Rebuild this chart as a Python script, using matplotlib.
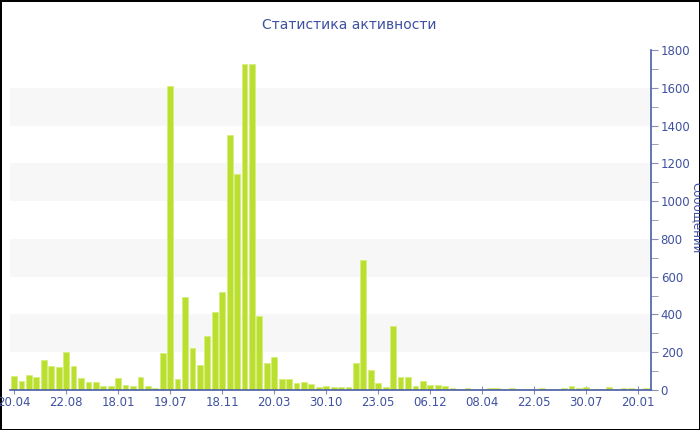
import matplotlib
matplotlib.use("Agg")
import matplotlib.pyplot as plt
from matplotlib.ticker import MultipleLocator
import numpy as np

title = "Статистика активности"
ylabel = "Сообщений"
tick_labels = ["20.04", "22.08", "18.01", "19.07", "18.11", "20.03", "30.10",
               "23.05", "06.12", "08.04", "22.05", "30.07", "20.01"]
tick_step = 7
values = [72, 48, 78, 71, 157, 125, 120, 201, 127, 65,
          41, 42, 23, 23, 62, 28, 21, 70, 23, 11,
          194, 1612, 56, 494, 222, 132, 288, 411, 521, 1352,
          1144, 1726, 1726, 392, 141, 173, 58, 56, 35, 41,
          30, 16, 21, 16, 14, 16, 141, 688, 106, 37,
          16, 339, 71, 67, 21, 48, 25, 25, 21, 11,
          5, 12, 5, 7, 9, 9, 7, 12, 7, 7,
          7, 9, 7, 7, 11, 19, 11, 16, 7, 7,
          16, 5, 9, 11, 7, 9]

text_color = "#3f51a0"
axis_color = "#4a5ea8"
bar_color = "#bbdf30"

fig = plt.figure(figsize=(7, 4.3), dpi=100)
fig.patch.set_edgecolor("black")
fig.patch.set_linewidth(2)
ax = fig.add_axes([10/700, 40/430, 641/700, 340/430])

x = np.arange(len(values))
ax.bar(x, values, width=0.78, color=bar_color, edgecolor="#d6ef7a", linewidth=0.6, zorder=3)

ax.set_xlim(-0.55, len(values) - 0.3)
ax.set_ylim(0, 1800)
for lo in (200, 600, 1000, 1400):
    ax.axhspan(lo, lo + 200, color="#f7f7f7", zorder=0, lw=0)

ax.yaxis.tick_right()
ax.yaxis.set_label_position("right")
ax.yaxis.set_major_locator(MultipleLocator(200))
ax.yaxis.set_minor_locator(MultipleLocator(100))
ax.set_xticks(x[::tick_step][:len(tick_labels)])
ax.set_xticklabels(tick_labels)

for s in ("left", "top"):
    ax.spines[s].set_visible(False)
for s in ("right", "bottom"):
    ax.spines[s].set_color(axis_color)
    ax.spines[s].set_linewidth(1.2)
    ax.spines[s].set_zorder(4)

ax.tick_params(axis="y", which="major", length=5, color="#8890b0", labelcolor=text_color, labelsize=8.5, pad=2)
ax.tick_params(axis="y", which="minor", length=5, color="#8890b0")
ax.tick_params(axis="x", length=6, direction="inout", color="#8890b0", labelcolor=text_color, labelsize=8.5, pad=1)

fig.text(349/700, 1 - 25/430, title, ha="center", va="center", color=text_color, fontsize=10)
fig.text(697/700, 0.5 - 3/430, ylabel, ha="center", va="center", rotation=-90, color=text_color, fontsize=8.5)

fig.savefig("out.png", dpi=100, edgecolor=fig.get_edgecolor())
